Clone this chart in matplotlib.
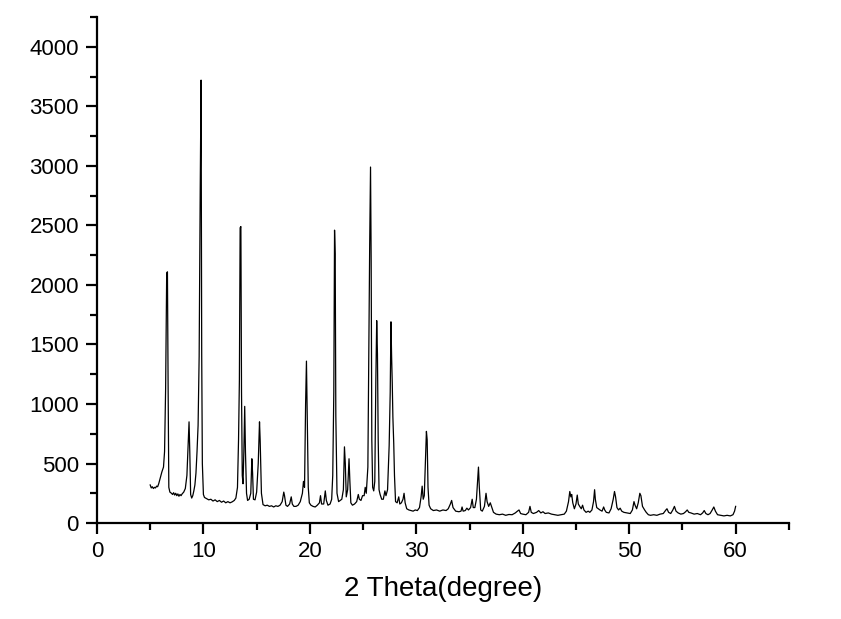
import numpy as np
import matplotlib.pyplot as plt
from matplotlib.ticker import MultipleLocator


# XRD trace (2 theta in degrees, intensity in counts)
two_theta = [
    5.0, 5.1, 5.2, 5.3, 5.4, 5.5, 5.6, 5.7, 5.8, 5.95, 6.1, 6.25, 6.35, 6.45,
    6.55, 6.62, 6.68, 6.75, 6.85, 7.0, 7.1, 7.2, 7.3, 7.4, 7.5, 7.6, 7.7, 7.8,
    7.9, 8.0, 8.15, 8.3, 8.45, 8.55, 8.65, 8.72, 8.8, 8.9, 9.0, 9.1, 9.2, 9.3,
    9.4, 9.5, 9.6, 9.7, 9.78, 9.84, 9.9, 10.0, 10.1,
    10.3, 10.5, 10.7, 10.9, 11.1, 11.3, 11.5, 11.7, 11.9, 12.1, 12.3, 12.5,
    12.7, 12.9, 13.05, 13.2, 13.3, 13.38, 13.45, 13.52, 13.58, 13.65, 13.72,
    13.8, 13.88, 13.95, 14.05, 14.15, 14.3, 14.45, 14.55, 14.62, 14.7, 14.85,
    15.0, 15.15, 15.27, 15.33, 15.45, 15.6, 15.8, 16.0, 16.2, 16.4, 16.6,
    16.8, 17.0, 17.2, 17.4, 17.55, 17.62, 17.75, 17.9, 18.1, 18.25, 18.35,
    18.5, 18.7, 18.9, 19.1, 19.3, 19.4, 19.5, 19.6, 19.68, 19.75, 19.85,
    19.95, 20.1, 20.3, 20.5, 20.7, 20.9, 21.0, 21.1, 21.3, 21.45, 21.55, 21.7,
    21.9, 22.05, 22.15, 22.25, 22.32, 22.38, 22.44, 22.55, 22.7, 22.85, 23.0,
    23.15, 23.25, 23.33, 23.42, 23.55, 23.68, 23.76, 23.85, 24.0, 24.2, 24.4,
    24.55, 24.65, 24.8, 24.95, 25.1, 25.2, 25.3, 25.45, 25.55, 25.62, 25.7,
    25.76, 25.82, 25.9, 26.0, 26.1, 26.2, 26.28, 26.35, 26.42, 26.5, 26.6,
    26.75, 26.9, 27.05, 27.15, 27.3, 27.45, 27.55, 27.62, 27.68, 27.74, 27.8,
    27.88, 27.95, 28.05, 28.2, 28.35, 28.45, 28.6, 28.75, 28.85, 28.95, 29.1,
    29.3, 29.5, 29.7, 29.9, 30.1, 30.3, 30.45, 30.55, 30.65, 30.75, 30.85,
    30.95, 31.02, 31.1, 31.2, 31.35, 31.6, 31.9, 32.2, 32.5, 32.8, 33.0, 33.2,
    33.32, 33.45, 33.7, 34.0, 34.2, 34.3, 34.4, 34.6, 34.75, 34.9, 35.1,
    35.25, 35.35, 35.5, 35.65, 35.75, 35.84, 35.92, 36.05, 36.2, 36.4, 36.55,
    36.65, 36.8, 36.95, 37.1, 37.25, 37.5, 37.8, 38.1, 38.4, 38.7, 39.0, 39.3,
    39.5, 39.65, 39.8, 40.0, 40.3, 40.55, 40.68, 40.8, 41.0, 41.3, 41.5, 41.7,
    41.9, 42.1, 42.4, 42.7, 43.0, 43.3, 43.6, 43.9, 44.1, 44.3, 44.42, 44.52,
    44.6, 44.7, 44.85, 45.0, 45.12, 45.22, 45.35, 45.5, 45.62, 45.75, 45.95,
    46.15, 46.3, 46.5, 46.65, 46.75, 46.82, 46.95, 47.1, 47.25, 47.45, 47.6,
    47.7, 47.85, 48.1, 48.3, 48.5, 48.62, 48.72, 48.85, 49.0, 49.15, 49.3,
    49.5, 49.8, 50.1, 50.3, 50.45, 50.55, 50.7, 50.85, 51.0, 51.1, 51.25,
    51.45, 51.6, 51.8, 52.0, 52.3, 52.6, 52.9, 53.2, 53.45, 53.55, 53.7, 53.9,
    54.1, 54.25, 54.4, 54.6, 54.85, 55.1, 55.3, 55.45, 55.6, 55.8, 56.1, 56.4,
    56.7, 56.9, 57.05, 57.2, 57.4, 57.6, 57.8, 57.95, 58.1, 58.3, 58.6, 58.9,
    59.2, 59.5, 59.75, 59.9, 60.0,
]
intensity = [
    320, 295, 305, 290, 300, 295, 310, 305, 330, 380, 430, 470, 600, 1130,
    2100, 2110, 1200, 300, 260, 250, 240, 255, 235, 250, 230, 245, 225, 240,
    230, 245, 260, 290, 400, 620, 850, 600, 240, 210, 230, 270, 320, 420,
    600, 820, 1400, 2800, 3720, 1420, 500, 240, 215,
    205, 195, 200, 185, 195, 180, 190, 175, 185, 170, 180, 170,
    178, 190, 210, 300, 700, 1200, 2480, 2490, 1100, 400, 330,
    600, 980, 600, 250, 190, 200, 250, 540, 420, 200, 195,
    260, 500, 850, 700, 250, 155, 145, 150, 140, 145, 135,
    145, 140, 150, 180, 260, 230, 150, 140, 160, 220, 160,
    140, 140, 150, 180, 250, 350, 300, 1000, 1360, 900, 300,
    170, 150, 140, 135, 150, 170, 230, 160, 160, 270, 190, 150,
    160, 200, 400, 1100, 2460, 2260, 900, 250, 180, 190, 200,
    280, 640, 500, 220, 280, 540, 350, 170, 150, 160, 180,
    240, 200, 190, 230, 230, 300, 250, 470, 1620, 2330, 2990,
    2200, 700, 300, 270, 350, 1200, 1700, 1420, 700, 280, 240,
    200, 200, 270, 230, 280, 650, 1100, 1690, 1400, 1180, 890,
    670, 400, 180, 170, 220, 160, 170, 200, 250, 170, 120,
    110, 105, 100, 110, 105, 130, 220, 310, 200, 230, 500,
    770, 700, 300, 150, 120, 105, 110, 100, 110, 105, 120, 160,
    190, 130, 100, 95, 100, 135, 100, 105, 125, 110, 130,
    200, 130, 130, 200, 350, 470, 300, 110, 100, 140, 250,
    180, 140, 170, 130, 90, 75, 70, 75, 65, 72, 70, 85,
    100, 110, 80, 75, 70, 90, 140, 90, 80, 90, 105, 85,
    95, 80, 85, 75, 70, 65, 70, 75, 100, 180, 265, 220,
    240, 170, 120, 160, 235, 160, 140, 120, 150, 110, 90,
    100, 90, 110, 180, 280, 200, 130, 120, 110, 100, 135,
    110, 90, 85, 120, 200, 265, 220, 130, 110, 125, 100,
    90, 85, 80, 110, 180, 150, 120, 170, 250, 230, 140,
    110, 90, 70, 65, 70, 65, 75, 80, 110, 120, 90, 80,
    110, 140, 100, 85, 75, 80, 95, 110, 90, 85, 75, 80,
    70, 85, 105, 80, 70, 80, 110, 135, 100, 70, 65, 60,
    65, 60, 70, 100, 140,
]

x_ticks = [0, 10, 20, 30, 40, 50, 60]
y_ticks = [0, 500, 1000, 1500, 2000, 2500, 3000, 3500, 4000]

plt.rcParams['font.family'] = ['Liberation Sans', 'DejaVu Sans']

fig = plt.figure(figsize=(8.41, 6.19), dpi=100)
ax = fig.add_axes([0.1153, 0.155, 0.8227, 0.8175])

ax.plot(two_theta, intensity, color='black', linewidth=0.9)

ax.set_xlim(0, 65)
ax.set_ylim(0, 4250)
ax.set_xticks(x_ticks)
ax.set_yticks(y_ticks)
ax.xaxis.set_minor_locator(MultipleLocator(5))
ax.yaxis.set_minor_locator(MultipleLocator(250))

# only left and bottom axis lines, ticks pointing out
for side in ['top', 'right']:
    ax.spines[side].set_visible(False)
for side in ['left', 'bottom']:
    ax.spines[side].set_linewidth(1.6)
ax.tick_params(which='major', direction='out', length=8, width=1.6,
               labelsize=16, pad=5)
ax.tick_params(which='minor', direction='out', length=5, width=1.6)

ax.set_xlabel('2 Theta(degree)', fontsize=20, labelpad=10)

fig.savefig('out.png', dpi=100)
